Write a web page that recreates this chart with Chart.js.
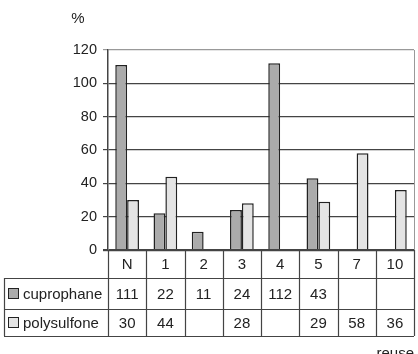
<!DOCTYPE html>
<html>
<head>
<meta charset="utf-8">
<script src="https://cdn.jsdelivr.net/npm/chart.js@4"></script>
<style>
  body { margin: 0; background: #fff; }
</style>
</head>
<body>
<canvas id="reuseChart" width="418" height="354"></canvas>
<script>
const categories = ["N", "1", "2", "3", "4", "5", "7", "10"];
const cuprophane = [111, 22, 11, 24, 112, 43, null, null];
const polysulfone = [30, 44, null, 28, null, 29, 58, 36];
const yTicks = [0, 20, 40, 60, 80, 100, 120];

const FONT = "'Liberation Sans', Arial, sans-serif";
const TEXT = "#222";
const LINE = "#444";

// data table under the x axis, drawn from the same arrays
const tablePlugin = {
    id: "dataTable",
    afterDraw(chart) {
        const ctx = chart.ctx;
        const x = chart.scales.x;
        const area = chart.chartArea;
        const step = x.getPixelForValue(1) - x.getPixelForValue(0);
        const headTop = area.bottom;
        const row1 = headTop + 28;
        const row2 = row1 + 31;
        const row3 = row2 + 27;
        const tableLeft = 4;

        ctx.save();

        // right border of the plot
        ctx.strokeStyle = "#999";
        ctx.lineWidth = 1;
        ctx.beginPath();
        ctx.moveTo(area.right + 0.5, area.top);
        ctx.lineTo(area.right + 0.5, area.bottom);
        ctx.stroke();

        ctx.strokeStyle = LINE;
        ctx.lineWidth = 1.2;
        ctx.beginPath();
        [row1, row2, row3].forEach(y => {
            ctx.moveTo(tableLeft, y + 0.5);
            ctx.lineTo(area.right, y + 0.5);
        });
        for (let i = 0; i <= categories.length; i++) {
            const bx = Math.round(x.getPixelForValue(i) - step / 2) + 0.5;
            ctx.moveTo(bx, headTop);
            ctx.lineTo(bx, row3);
        }
        ctx.moveTo(tableLeft + 0.5, row1);
        ctx.lineTo(tableLeft + 0.5, row3);
        ctx.stroke();

        ctx.fillStyle = TEXT;
        ctx.font = "15px " + FONT;
        ctx.textAlign = "center";
        ctx.textBaseline = "middle";

        categories.forEach((c, i) => {
            const cx = x.getPixelForValue(i);
            ctx.fillText(c, cx, (headTop + row1) / 2 + 1);
            if (cuprophane[i] !== null) {
                ctx.fillText(String(cuprophane[i]), cx, (row1 + row2) / 2 + 1);
            }
            if (polysulfone[i] !== null) {
                ctx.fillText(String(polysulfone[i]), cx, (row2 + row3) / 2 + 1);
            }
        });

        // series names with swatches
        chart.data.datasets.forEach((ds, k) => {
            const top = k === 0 ? row1 : row2;
            const bottom = k === 0 ? row2 : row3;
            const cy = (top + bottom) / 2;
            ctx.fillStyle = ds.backgroundColor;
            ctx.fillRect(8.5, cy - 5, 10, 10);
            ctx.strokeStyle = "#222";
            ctx.lineWidth = 1;
            ctx.strokeRect(8.5, cy - 5, 10, 10);
            ctx.fillStyle = TEXT;
            ctx.textAlign = "left";
            ctx.fillText(ds.label, 23, cy + 1);
        });

        // unit and footer text
        ctx.textAlign = "center";
        ctx.fillText("%", 78, 19);
        ctx.textAlign = "right";
        ctx.textBaseline = "top";
        ctx.fillText("reuse", 414, 346);

        ctx.restore();
    }
};

new Chart(document.getElementById("reuseChart"), {
    type: "bar",
    data: {
        labels: categories,
        datasets: [
            {
                label: "cuprophane",
                data: cuprophane,
                backgroundColor: "#ababab",
                borderColor: "#222",
                borderWidth: 1.5
            },
            {
                label: "polysulfone",
                data: polysulfone,
                backgroundColor: "#e4e4e4",
                borderColor: "#222",
                borderWidth: 1.5
            }
        ]
    },
    options: {
        responsive: false,
        animation: false,
        categoryPercentage: 0.62,
        barPercentage: 1,
        layout: {
            padding: { left: 0, right: 4, top: 50, bottom: 104 }
        },
        plugins: {
            legend: { display: false },
            tooltip: { enabled: false }
        },
        scales: {
            x: {
                display: false
            },
            y: {
                min: 0,
                max: 120,
                afterFit(scale) {
                    scale.width = 108;
                },
                afterBuildTicks(scale) {
                    scale.ticks = yTicks.map(v => ({ value: v }));
                },
                border: {
                    display: true,
                    color: LINE,
                    width: 1.5
                },
                grid: {
                    color: ctx => ctx.tick && ctx.tick.value === 120 ? "#999" : LINE,
                    lineWidth: ctx => ctx.tick && ctx.tick.value === 0 ? 2.2 : 1.2,
                    tickLength: 5
                },
                ticks: {
                    padding: 6,
                    color: TEXT,
                    font: { family: FONT, size: 14.5 }
                }
            }
        }
    },
    plugins: [tablePlugin]
});
</script>
</body>
</html>
